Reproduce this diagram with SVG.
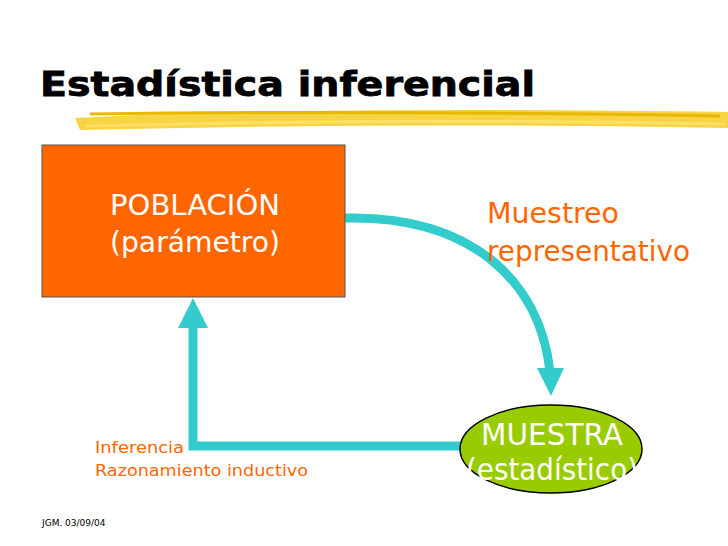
<svg xmlns="http://www.w3.org/2000/svg" width="728" height="546" viewBox="0 0 728 546">
<style>
text{font-family:"DejaVu Sans",Verdana,sans-serif}
.w{fill:#fff}
.o{fill:#FF6600}
.c{fill:none;stroke:#33CCCC;stroke-width:9}
</style>
<rect width="728" height="546" fill="#fff"/>
<g id="title">
<text x="40" y="96" font-size="33" font-weight="bold" fill="#000" stroke="#000" stroke-width="0.8" textLength="495" lengthAdjust="spacingAndGlyphs">Estadística inferencial</text>
<path d="M75,118 Q300,106 728,112 L728,128 Q400,122 80,130 Z" fill="#F5CC22" opacity="0.85"/>
<path d="M90,114 Q350,110 720,116" stroke="#E8B800" stroke-width="3" fill="none"/>
<path d="M85,126 Q400,118 725,124" stroke="#FFE066" stroke-width="3" fill="none"/>
</g>
<g id="connectors">
<path class="c" d="M345,218 C470,215 540,280 550,372"/>
<polygon points="537,368 564,368 551,396" fill="#33CCCC"/>
<polyline class="c" points="462,446 193,446 193,326"/>
<polygon points="178,328 208,328 193,298" fill="#33CCCC"/>
</g>
<g id="poblacion">
<rect x="42" y="145" width="303" height="152" fill="#FF6600" stroke="#555" stroke-width="1"/>
<text class="w" x="110" y="215" font-size="28" textLength="170" lengthAdjust="spacingAndGlyphs">POBLACIÓN</text>
<text class="w" x="110" y="252" font-size="28" textLength="170" lengthAdjust="spacingAndGlyphs">(parámetro)</text>
</g>
<g id="muestra">
<ellipse cx="551" cy="449" rx="91" ry="44" fill="#99CC00" stroke="#000" stroke-width="1.5"/>
<text class="w" x="552" y="445" font-size="30" text-anchor="middle" textLength="142" lengthAdjust="spacingAndGlyphs">MUESTRA</text>
<text class="w" x="552" y="480" font-size="30" text-anchor="middle" textLength="172" lengthAdjust="spacingAndGlyphs">(estadístico)</text>
</g>
<g id="labels">
<text class="o" x="487" y="223" font-size="28" textLength="132" lengthAdjust="spacingAndGlyphs">Muestreo</text>
<text class="o" x="487" y="261" font-size="28" textLength="203" lengthAdjust="spacingAndGlyphs">representativo</text>
<text class="o" x="95" y="453" font-size="16" textLength="89" lengthAdjust="spacingAndGlyphs">Inferencia</text>
<text class="o" x="95" y="476" font-size="16" textLength="213" lengthAdjust="spacingAndGlyphs">Razonamiento inductivo</text>
<text x="42" y="526" font-size="9" fill="#000" font-family="Liberation Sans,Arial,sans-serif">JGM. 03/09/04</text>
</g>
</svg>
